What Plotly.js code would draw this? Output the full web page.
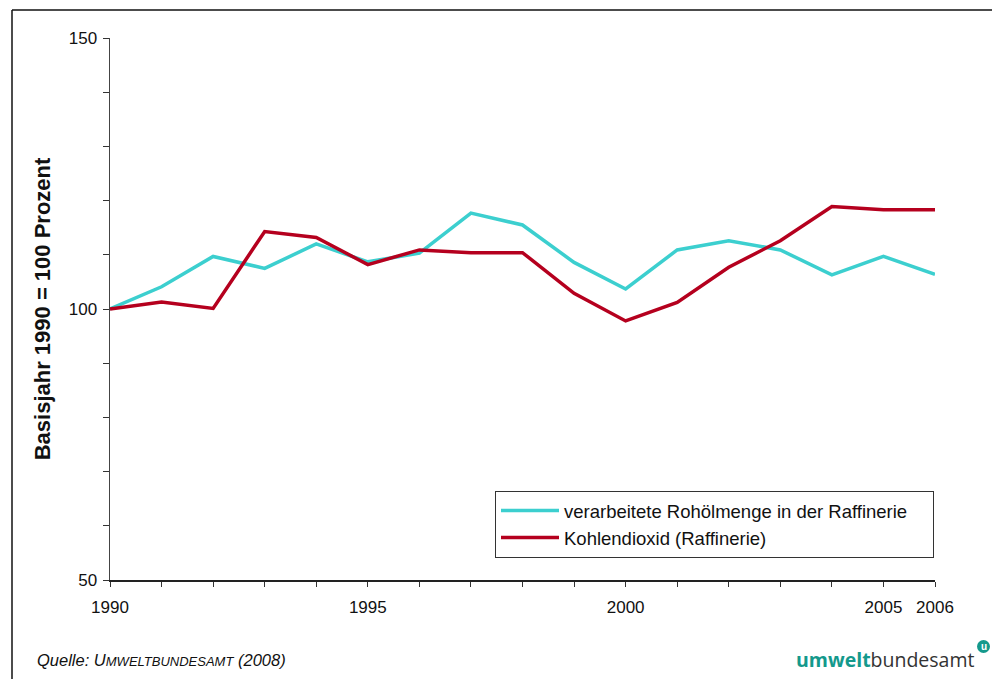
<!DOCTYPE html>
<html>
<head>
<meta charset="utf-8">
<script src="https://cdn.plot.ly/plotly-3.0.1.min.js"></script>
<style>html,body{margin:0;padding:0;background:#fff;}#chart{width:992px;height:679px;}</style>
</head>
<body>
<div id="chart"></div>
<script>
const years = [1990,1991,1992,1993,1994,1995,1996,1997,1998,1999,2000,2001,2002,2003,2004,2005,2006];
const rohoel = [100,104.1,109.7,107.5,112.0,108.7,110.3,117.7,115.5,108.6,103.7,110.9,112.6,110.9,106.3,109.7,106.4];
const co2 = [100,101.3,100.1,114.3,113.2,108.2,110.9,110.4,110.4,102.9,97.8,101.2,107.7,112.6,118.9,118.3,118.3];
const seriesNames = ['verarbeitete Rohölmenge in der Raffinerie','Kohlendioxid (Raffinerie)'];
const xTickLabels = {1990:'1990',1995:'1995',2000:'2000',2005:'2005',2006:'2006'};
const yTickVals = [50,60,70,80,90,100,110,120,130,140,150];
const yTickLabels = {50:'50',100:'100',150:'150'};

const font = 'Arial, "Liberation Sans", sans-serif';
const pad = '&nbsp;&nbsp;&nbsp;&nbsp;';
const traces = [
  {x: years, y: rohoel, name: seriesNames[0] + pad, type:'scatter', mode:'lines',
   line:{color:'#3ccfcf', width:3.5}},
  {x: years, y: co2, name: seriesNames[1], type:'scatter', mode:'lines',
   line:{color:'#b5001e', width:3.5}}
];
const L = 110, R = 935, T = 38, B = 580;
const px = v => (v - L)/(R - L);
const py = v => (B - v)/(B - T);
const layout = {
  width: 992, height: 679,
  margin: {l: L, r: 992-R, t: T, b: 679-B},
  paper_bgcolor:'#fff', plot_bgcolor:'#fff',
  font:{family: font, color:'#111', size:16},
  showlegend: true,
  legend: {x: px(495), y: py(491), xanchor:'left', yanchor:'top',
    bordercolor:'#333', borderwidth:1, bgcolor:'#fff', itemwidth:58,
    font:{family: font, size:18.5, color:'#111'}, tracegroupgap:3},
  xaxis: {range:[1990,2006], tickvals: years, ticktext: years.map(y => xTickLabels[y] || ''),
    ticks:'outside', ticklen:5, tickcolor:'#333', tickwidth:1,
    showline:true, linecolor:'#222', linewidth:1.5, showgrid:false, zeroline:false,
    tickfont:{family: font, size:17, color:'#111'}, ticklabelstandoff:6, fixedrange:true},
  yaxis: {range:[50,150], tickvals: yTickVals, ticktext: yTickVals.map(v => yTickLabels[v] || ''),
    ticks:'outside', ticklen:6, tickcolor:'#333', tickwidth:1,
    showline:true, linecolor:'#444', linewidth:1.5, showgrid:false, zeroline:false,
    tickfont:{family: font, size:17, color:'#111'}, ticklabelstandoff:2,
    title:{text:'<b>Basisjahr 1990 = 100 Prozent</b>', font:{family: font, size:22, color:'#111'}, standoff:12},
    fixedrange:true},
  shapes: [
    {type:'line', xref:'paper', yref:'paper', x0:px(12), x1:px(12), y0:py(10), y1:py(700), line:{color:'#111', width:1.5}},
    {type:'line', xref:'paper', yref:'paper', x0:px(12), x1:px(1000), y0:py(10), y1:py(10), line:{color:'#111', width:1.5}},
    {type:'circle', xref:'paper', yref:'paper', x0:px(977), x1:px(990), y0:py(640), y1:py(653), fillcolor:'#14998c', line:{width:0}}
  ],
  annotations: [
    {xref:'paper', yref:'paper', x:px(35), y:py(660), xanchor:'left', yanchor:'middle', showarrow:false,
     text:'<i>Quelle: U<span style="font-size:13px">MWELTBUNDESAMT</span> (2008)</i>', font:{family: font, size:16.5, color:'#111'}},
    {xref:'paper', yref:'paper', x:px(977), y:py(659), xanchor:'right', yanchor:'middle', showarrow:false,
     text:'<b><span style="color:#14998c">umwelt</span></b><span style="color:#333">bundesamt</span>', font:{family:'"Open Sans", "DejaVu Sans", sans-serif', size:19.5}},
    {xref:'paper', yref:'paper', x:px(983.5), y:py(646.5), xanchor:'center', yanchor:'middle', showarrow:false,
     text:'<b>u</b>', font:{family: font, size:10, color:'#fff'}}
  ]
};
Plotly.newPlot('chart', traces, layout, {displayModeBar:false, staticPlot:true});
</script>
</body>
</html>
